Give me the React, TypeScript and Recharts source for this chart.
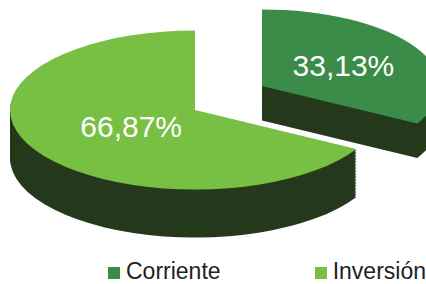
import { Cell, Legend, Pie, PieChart } from "recharts";

const CATEGORIES = ["Corriente", "Inversión"];
const SHARES = [33.13, 66.87];
const LABELS = ["33,13%", "66,87%"];

const TOP_COLORS = ["#3a8c48", "#78c043"];
const SIDE_COLOR = "#253a1c";
const FONT = "'Liberation Sans', Arial, Helvetica, sans-serif";

// vertical squash of the pie disc (fake 3D tilt) and spacing of the side layers
const K = 0.43;
const STEP = 1.5;

// where each slice sits on screen; Corriente is pulled out up-right
const SLICES = [
  { cx: 262, cy: 86, r: 178, depth: 34, labelR: 0.53 },
  { cx: 195, cy: 110, r: 185, depth: 48, labelR: 0.4 },
];

const data = CATEGORIES.map((name, i) => ({
  name,
  value: SHARES[i],
  text: LABELS[i],
}));

const renderLabel = (idx: number) => (p: any) => {
  if (p.index !== idx) return null;
  const rad = (-p.midAngle * Math.PI) / 180;
  const rho = p.outerRadius * SLICES[idx].labelR;
  const x = p.cx + rho * Math.cos(rad);
  const y = p.cy + rho * Math.sin(rad) * K;
  return (
    <text
      x={x}
      y={y}
      fill="#fff"
      fontSize={30}
      fontFamily={FONT}
      textAnchor="middle"
      dominantBaseline="central"
    >
      {p.payload?.text ?? LABELS[idx]}
    </text>
  );
};

function renderLegend(props: any) {
  const items = (props.payload ?? []).filter((it: any) => it.type !== "none");
  return (
    <div
      style={{
        display: "flex",
        paddingLeft: 108,
        fontFamily: FONT,
        fontSize: 23,
        lineHeight: "24px",
        color: "#222",
      }}
    >
      {items.map((it: any, i: number) => (
        <div
          key={it.value}
          style={{
            display: "flex",
            alignItems: "center",
            width: i === 0 ? 209 : "auto",
            whiteSpace: "nowrap",
          }}
        >
          <span
            style={{
              display: "inline-block",
              width: 12,
              height: 12,
              marginRight: 6,
              marginTop: 3,
              background: it.color,
            }}
          />
          {it.value}
        </div>
      ))}
    </div>
  );
}

function slicePies(idx: number) {
  const s = SLICES[idx];
  const n = Math.round(s.depth / STEP);
  const pies = [];
  // side walls: the same slice stacked downwards in the dark colour
  for (let j = n; j >= 1; j--) {
    pies.push(
      <Pie
        key={`side-${idx}-${j}`}
        className="squash"
        data={data}
        dataKey="value"
        cx={s.cx}
        cy={(s.cy + j * STEP) / K}
        outerRadius={s.r}
        startAngle={90}
        endAngle={-270}
        stroke="none"
        legendType="none"
        isAnimationActive={false}
      >
        {data.map((d, i) => (
          <Cell key={d.name} fill={i === idx ? SIDE_COLOR : "none"} />
        ))}
      </Pie>
    );
  }
  pies.push(
    <Pie
      key={`top-${idx}`}
      className="squash"
      data={data}
      dataKey="value"
      cx={s.cx}
      cy={s.cy / K}
      outerRadius={s.r}
      startAngle={90}
      endAngle={-270}
      stroke="none"
      legendType="none"
      isAnimationActive={false}
    >
      {data.map((d, i) => (
        <Cell key={d.name} fill={i === idx ? TOP_COLORS[i] : "none"} />
      ))}
    </Pie>
  );
  return pies;
}

export default function App() {
  return (
    <div style={{ position: "absolute", left: 0, top: 0, fontFamily: FONT }}>
      <style>{`.recharts-pie.squash { transform: scaleY(${K}); transform-origin: 0 0; }`}</style>
      <PieChart width={426} height={284} margin={{ top: 0, right: 0, bottom: 0, left: 0 }}>
        {slicePies(0)}
        {slicePies(1)}
        {[0, 1].map((idx) => (
          <Pie
            key={`labels-${idx}`}
            data={data}
            dataKey="value"
            cx={SLICES[idx].cx}
            cy={SLICES[idx].cy}
            outerRadius={SLICES[idx].r}
            startAngle={90}
            endAngle={-270}
            stroke="none"
            fillOpacity={0}
            labelLine={false}
            label={renderLabel(idx)}
            legendType={idx === 1 ? "square" : "none"}
            isAnimationActive={false}
          >
            {data.map((d, i) => (
              <Cell key={d.name} fill={TOP_COLORS[i]} />
            ))}
          </Pie>
        ))}
        <Legend
          content={renderLegend}
          wrapperStyle={{ top: 259, left: 0, bottom: "auto", width: 426, height: 26 }}
        />
      </PieChart>
    </div>
  );
}
